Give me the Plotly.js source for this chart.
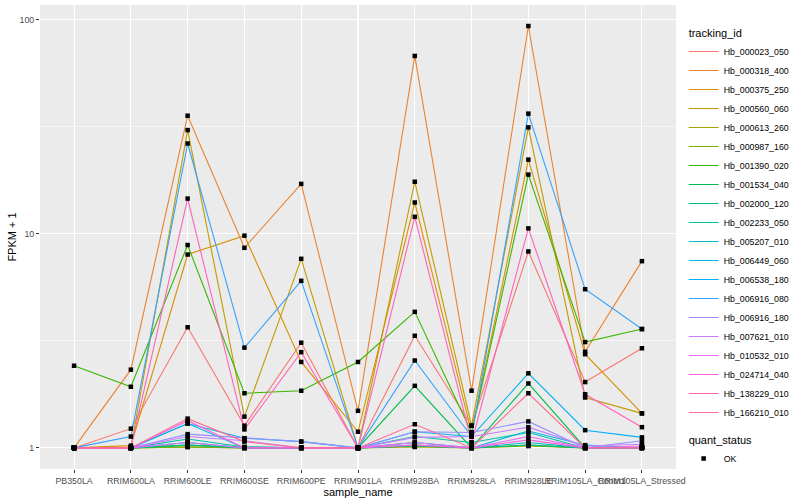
<!DOCTYPE html>
<html>
<head>
<meta charset="utf-8">
<script src="https://cdn.plot.ly/plotly-3.0.1.min.js"></script>
<style>html,body{margin:0;padding:0;background:#fff;}#chart{width:800px;height:500px;}</style>
</head>
<body>
<div id="chart"></div>
<script>
var samples = ["PB350LA","RRIM600LA","RRIM600LE","RRIM600SE","RRIM600PE","RRIM901LA","RRIM928BA","RRIM928LA","RRIM928LE","RRIM105LA_Control","RRIM105LA_Stressed"];

var trackingIds = ["Hb_000023_050","Hb_000318_400","Hb_000375_250","Hb_000560_060","Hb_000613_260","Hb_000987_160","Hb_001390_020","Hb_001534_040","Hb_002000_120","Hb_002233_050","Hb_005207_010","Hb_006449_060","Hb_006538_180","Hb_006916_080","Hb_006916_180","Hb_007621_010","Hb_010532_010","Hb_024714_040","Hb_138229_010","Hb_166210_010"];

var colors = ["#F8766D","#EA8331","#D89000","#C09B00","#A3A500","#7CAE00","#39B600","#00BB4E","#00BF7D","#00C1A3","#00BFC4","#00BAE0","#00B0F6","#35A2FF","#9590FF","#C77CFF","#E76BF3","#FA62DB","#FF62BC","#FF6C91"];

// FPKM + 1 per tracking id, in sample order
var Hb_000023_050 = [1.00, 1.23, 3.66, 1.27, 3.10, 1.00, 3.34, 1.27, 8.27, 2.03, 2.92];
var Hb_000318_400 = [1.00, 2.32, 35.6, 8.60, 17.1, 1.49, 67.7, 1.85, 93.4, 2.81, 7.45];
var Hb_000375_250 = [1.00, 1.025, 8.00, 9.80, 2.52, 1.19, 14.0, 1.18, 22.2, 2.74, 1.45];
var Hb_000560_060 = [1.00, 1.00, 30.5, 1.40, 7.64, 1.00, 17.5, 1.27, 31.4, 1.72, 1.45];
var Hb_000613_260 = [1.00, 1.00, 1.01, 1.00, 1.00, 1.00, 1.01, 1.00, 1.02, 1.00, 1.00];
var Hb_000987_160 = [1.00, 1.00, 1.01, 1.00, 1.00, 1.00, 1.02, 1.00, 1.03, 1.00, 1.00];
var Hb_001390_020 = [2.42, 1.93, 8.86, 1.80, 1.85, 2.52, 4.32, 1.18, 18.9, 3.12, 3.59];
var Hb_001534_040 = [1.00, 1.00, 1.03, 1.01, 1.00, 1.00, 1.95, 1.00, 2.00, 1.00, 1.00];
var Hb_002000_120 = [1.00, 1.00, 1.03, 1.00, 1.00, 1.00, 1.02, 1.00, 1.03, 1.00, 1.00];
var Hb_002233_050 = [1.00, 1.00, 1.10, 1.01, 1.00, 1.00, 1.13, 1.06, 1.18, 1.00, 1.00];
var Hb_005207_010 = [1.00, 1.00, 1.06, 1.00, 1.00, 1.00, 1.03, 1.00, 1.06, 1.00, 1.00];
var Hb_006449_060 = [1.00, 1.00, 1.30, 1.00, 1.00, 1.00, 1.06, 1.00, 1.20, 1.03, 1.00];
var Hb_006538_180 = [1.00, 1.00, 1.30, 1.11, 1.07, 1.00, 1.19, 1.13, 2.23, 1.21, 1.12];
var Hb_006916_080 = [1.00, 1.13, 26.4, 2.94, 6.03, 1.00, 2.56, 1.13, 36.4, 5.51, 3.59];
var Hb_006916_180 = [1.00, 1.00, 1.16, 1.11, 1.07, 1.00, 1.19, 1.18, 1.33, 1.00, 1.08];
var Hb_007621_010 = [1.00, 1.00, 1.13, 1.08, 1.00, 1.00, 1.12, 1.13, 1.25, 1.02, 1.04];
var Hb_010532_010 = [1.00, 1.00, 1.06, 1.00, 1.00, 1.00, 1.06, 1.00, 1.13, 1.00, 1.02];
var Hb_024714_040 = [1.00, 1.00, 1.34, 1.00, 1.00, 1.00, 1.03, 1.00, 1.09, 1.00, 1.00];
var Hb_138229_010 = [1.00, 1.00, 14.6, 1.22, 2.80, 1.00, 12.0, 1.06, 10.6, 1.78, 1.25];
var Hb_166210_010 = [1.00, 1.00, 1.37, 1.07, 1.00, 1.00, 1.29, 1.00, 1.80, 1.00, 1.00];

var seriesValues = [Hb_000023_050,Hb_000318_400,Hb_000375_250,Hb_000560_060,Hb_000613_260,Hb_000987_160,Hb_001390_020,Hb_001534_040,Hb_002000_120,Hb_002233_050,Hb_005207_010,Hb_006449_060,Hb_006538_180,Hb_006916_080,Hb_006916_180,Hb_007621_010,Hb_010532_010,Hb_024714_040,Hb_138229_010,Hb_166210_010];

var yTickVals = [1, 10, 100];
var yTickText = ["1", "10", "100"];

var FONT = "Liberation Sans, Arial, sans-serif";
var traces = [];
trackingIds.forEach(function(id, i){
  var t = {
    type: "scatter", mode: "lines", x: samples, y: seriesValues[i], name: id,
    line: {color: colors[i], width: 1.1},
    legendgroup: "tracking_id", hoverinfo: "x+y+name"
  };
  if (i === 0) t.legendgrouptitle = {text: "tracking_id", font: {size: 11, color: "#000", family: FONT}};
  traces.push(t);
});
var px = [], py = [];
seriesValues.forEach(function(vals){
  vals.forEach(function(v, j){ px.push(samples[j]); py.push(v); });
});
traces.push({
  type: "scatter", mode: "markers", x: px, y: py, name: "OK",
  marker: {symbol: "square", size: 4.5, color: "#000"},
  legendgroup: "quant_status",
  legendgrouptitle: {text: "quant_status", font: {size: 11, color: "#000", family: FONT}}
});

var layout = {
  width: 800, height: 500,
  margin: {l: 40, r: 115, t: 5, b: 31},
  paper_bgcolor: "#ffffff", plot_bgcolor: "#EBEBEB",
  font: {family: FONT, size: 9, color: "#4D4D4D"},
  showlegend: true,
  legend: {
    x: 1.012, xanchor: "left", y: 0.972, yanchor: "top",
    traceorder: "grouped", tracegroupgap: 8,
    font: {size: 8.8, color: "#000", family: FONT},
    bgcolor: "rgba(0,0,0,0)", itemwidth: 30
  },
  xaxis: {
    type: "category", categoryorder: "array", categoryarray: samples,
    range: [-0.6, 10.6], showgrid: true, gridcolor: "#FFFFFF", gridwidth: 1.1,
    zeroline: false, showline: false,
    ticks: "outside", ticklen: 3, tickwidth: 1, tickcolor: "#333333",
    tickfont: {size: 8.8, color: "#4D4D4D", family: FONT}, tickangle: 0,
    automargin: false,
    title: {text: "sample_name", font: {size: 11, color: "#000", family: FONT}, standoff: 0}
  },
  yaxis: {
    type: "log", range: [-0.0985, 2.0685],
    tickmode: "array", tickvals: yTickVals, ticktext: yTickText,
    showgrid: true, gridcolor: "#FFFFFF", gridwidth: 1.1,
    minor: {tickmode: "array", tickvals: [3.1623, 31.623], showgrid: true, gridcolor: "#FFFFFF", gridwidth: 0.55, ticks: ""},
    zeroline: false, showline: false,
    ticks: "outside", ticklen: 3, tickwidth: 1, tickcolor: "#333333",
    tickfont: {size: 8.8, color: "#4D4D4D", family: FONT},
    automargin: false,
    title: {text: "FPKM + 1", font: {size: 11, color: "#000", family: FONT}, standoff: 0}
  }
};

Plotly.newPlot("chart", traces, layout, {displayModeBar: false, staticPlot: true});
</script>
</body>
</html>
